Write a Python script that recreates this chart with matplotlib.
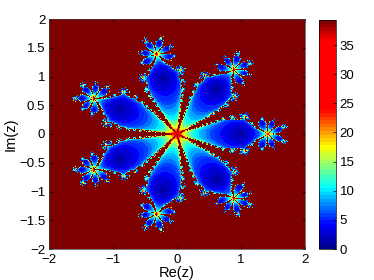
import numpy as np
import matplotlib
matplotlib.use("Agg")
import matplotlib.pyplot as plt
from matplotlib.colors import LinearSegmentedColormap

plt.rcParams['font.family'] = ['Liberation Sans', 'DejaVu Sans']

x_ticks = [-2, -1, 0, 1, 2]
y_ticks = [-2, -1.5, -1, -0.5, 0, 0.5, 1, 1.5, 2]
y_labels = ['\u22122', '\u22121.5', '\u22121', '\u22120.5', '0', '0.5', '1', '1.5', '2']
x_labels = ['\u22122', '\u22121', '0', '1', '2']
cbar_ticks = [0, 5, 10, 15, 20, 25, 30, 35]
color_values = [0, 4, 10.5, 17.5, 24, 36, 39.3]
color_names = ['#00008f', '#0000ff', '#00ffff', '#ffff00', '#ff0000', '#ff0000', '#7f0000']
vmax = 39.3
grid_size = 256
max_count = 39
pole_order = 6.62
tolerance = 8e-3
petals = 7

axis = np.linspace(-2, 2, grid_size)
zx, zy = np.meshgrid(axis, axis)
z = zx + 1j * zy
counts = np.full(z.shape, max_count, dtype=float)
roots = np.exp(2j * np.pi * np.arange(petals) / petals)
active = np.ones(z.shape, bool)
k = pole_order
with np.errstate(all='ignore'):
    for n in range(max_count):
        dist = np.min(np.abs(z[..., None] - roots), axis=-1)
        done = active & (dist < tolerance)
        counts[done] = n
        active &= ~done
        z = z * ((petals - 1 - k) * z ** petals + k + 1) / ((petals - k) * z ** petals + k)
        z[~np.isfinite(z) | (np.abs(z) > 1e6)] = 1e6

stops = [v / vmax for v in color_values]
cmap = LinearSegmentedColormap.from_list('ref', list(zip(stops, color_names)), N=64)

fig = plt.figure(figsize=(3.74, 2.80), dpi=100)
ax = fig.add_axes([48.7 / 374, 1 - 249 / 280, (305 - 48.7) / 374, 230 / 280])
mesh = ax.pcolormesh(axis, axis, counts, cmap=cmap, vmin=0, vmax=vmax, shading='nearest', rasterized=True)
ax.set_xlim(-2, 2)
ax.set_ylim(-2, 2)
ax.set_xticks(x_ticks, x_labels)
ax.set_yticks(y_ticks, y_labels)
ax.tick_params(direction='in', length=2.5, width=0.5, labelsize=9.5, pad=2.5, top=True, right=True)
ax.tick_params(axis='x', pad=3.5)
ax.set_xlabel('Re(z)', fontsize=10.5, labelpad=0)
ax.set_ylabel('Im(z)', fontsize=10.5, labelpad=1)
for s in ax.spines.values():
    s.set_linewidth(0.5)
    s.set_color('#404040')

cax = fig.add_axes([319 / 374, 1 - 249 / 280, 17 / 374, 229 / 280])
cb = fig.colorbar(mesh, cax=cax)
cb.set_ticks(cbar_ticks)
cax.tick_params(direction='in', length=2.5, width=0.5, labelsize=9.5, pad=2.5)
cb.outline.set_linewidth(0.5)
fig.savefig('out.png', dpi=100)
